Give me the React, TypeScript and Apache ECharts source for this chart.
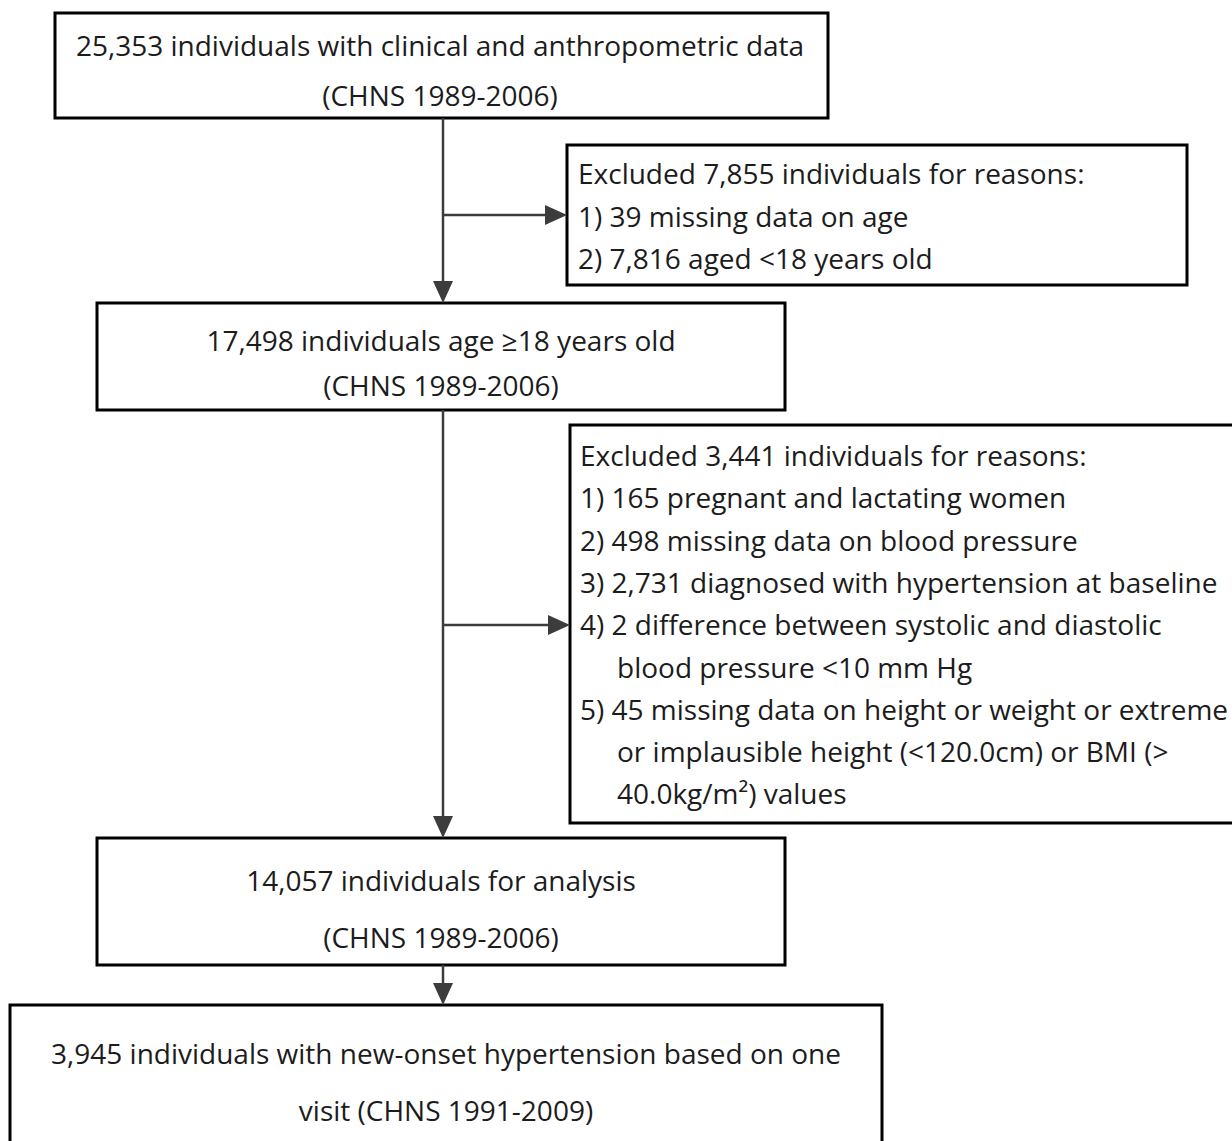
import React, { useEffect, useRef } from "react";
import * as echarts from "echarts";

// ---- data: the flowchart's texts ----
const box1Lines = ["25,353 individuals with clinical and anthropometric data", "(CHNS 1989-2006)"];
const excl1Lines = [
  "Excluded 7,855 individuals for reasons:",
  "1) 39 missing data on age",
  "2) 7,816 aged <18 years old",
];
const box2Lines = ["17,498 individuals age \u226518 years old", "(CHNS 1989-2006)"];
const excl2Lines = [
  "Excluded 3,441 individuals for reasons:",
  "1) 165 pregnant and lactating women",
  "2) 498 missing data on blood pressure",
  "3) 2,731 diagnosed with hypertension at baseline",
  "4) 2 difference between systolic and diastolic",
  "blood pressure <10 mm Hg",
  "5) 45 missing data on height or weight or extreme",
  "or implausible height (<120.0cm) or BMI (>",
  "40.0kg/m\u00b2) values",
];
const box3Lines = ["14,057 individuals for analysis", "(CHNS 1989-2006)"];
const box4Lines = ["3,945 individuals with new-onset hypertension based on one", "visit (CHNS 1991-2009)"];

// ---- layout ----
const FONT = "'Open Sans'";
const FS = 28;
const TXT = "#1c1c1c";
const LINE = "#3c3c3c";
const TRUNK_X = 443;

type Box = { x: number; y: number; w: number; h: number };
const B1: Box = { x: 55, y: 13, w: 773, h: 105 };
const BE1: Box = { x: 567, y: 145, w: 620, h: 140 };
const B2: Box = { x: 97, y: 303, w: 688, h: 107 };
const BE2: Box = { x: 570, y: 425, w: 680, h: 398 };
const B3: Box = { x: 97, y: 838, w: 688, h: 127 };
const B4: Box = { x: 10, y: 1005, w: 872, h: 160 };

function rectEl(b: Box) {
  return {
    type: "rect",
    shape: { x: b.x, y: b.y, width: b.w, height: b.h },
    style: { fill: "#fff", stroke: "#000", lineWidth: 3 },
    z: 1,
  };
}

function centerTexts(lines: string[], cx: number, ys: number[]) {
  return lines.map((t, i) => ({
    type: "text",
    x: cx,
    y: ys[i],
    style: { text: t, font: `${FS}px ${FONT}`, fill: TXT, textAlign: "center", textVerticalAlign: "middle" },
    z: 3,
  }));
}

function leftTexts(lines: string[], x: number, y0: number, dy: number) {
  return lines.map((t, i) => {
    const cont = !/^(\d\)|Excluded)/.test(t);
    return {
      type: "text",
      x: x + (cont ? 37 : 0),
      y: y0 + i * dy,
      style: { text: t, font: `${FS}px ${FONT}`, fill: TXT, textAlign: "left", textVerticalAlign: "middle" },
      z: 3,
    };
  });
}

function vArrow(x: number, y1: number, y2: number) {
  return [
    { type: "line", shape: { x1: x, y1, x2: x, y2: y2 - 18 }, style: { stroke: LINE, lineWidth: 2.5 }, z: 2 },
    {
      type: "polygon",
      shape: { points: [[x - 10, y2 - 22], [x + 10, y2 - 22], [x, y2]] },
      style: { fill: LINE },
      z: 2,
    },
  ];
}

function hArrow(x1: number, x2: number, y: number) {
  return [
    { type: "line", shape: { x1, y1: y, x2: x2 - 18, y2: y }, style: { stroke: LINE, lineWidth: 2.5 }, z: 2 },
    {
      type: "polygon",
      shape: { points: [[x2 - 22, y - 10], [x2 - 22, y + 10], [x2, y]] },
      style: { fill: LINE },
      z: 2,
    },
  ];
}

export default function App() {
  const ref = useRef<HTMLDivElement>(null);
  useEffect(() => {
    document.body.style.margin = "0";
    const chart = echarts.init(ref.current!, null, { renderer: "svg" });
    const elements: any[] = [
      rectEl(B1),
      rectEl(BE1),
      rectEl(B2),
      rectEl(BE2),
      rectEl(B3),
      rectEl(B4),
      ...vArrow(TRUNK_X, B1.y + B1.h, B2.y),
      ...hArrow(TRUNK_X, BE1.x, 215),
      ...vArrow(TRUNK_X, B2.y + B2.h, B3.y),
      ...hArrow(TRUNK_X, BE2.x, 625),
      ...vArrow(TRUNK_X, B3.y + B3.h, B4.y),
      ...centerTexts(box1Lines, 440, [45, 95]),
      ...leftTexts(excl1Lines, 578, 173, 42.5),
      ...centerTexts(box2Lines, 441, [340, 385]),
      ...leftTexts(excl2Lines, 580, 455, 42.3),
      ...centerTexts(box3Lines, 441, [880, 937]),
      ...centerTexts(box4Lines, 446, [1053, 1110]),
    ];
    chart.setOption({ animation: false, backgroundColor: "#fff", graphic: { elements } });
    return () => chart.dispose();
  }, []);
  return <div ref={ref} style={{ width: 1232, height: 1141 }} />;
}
